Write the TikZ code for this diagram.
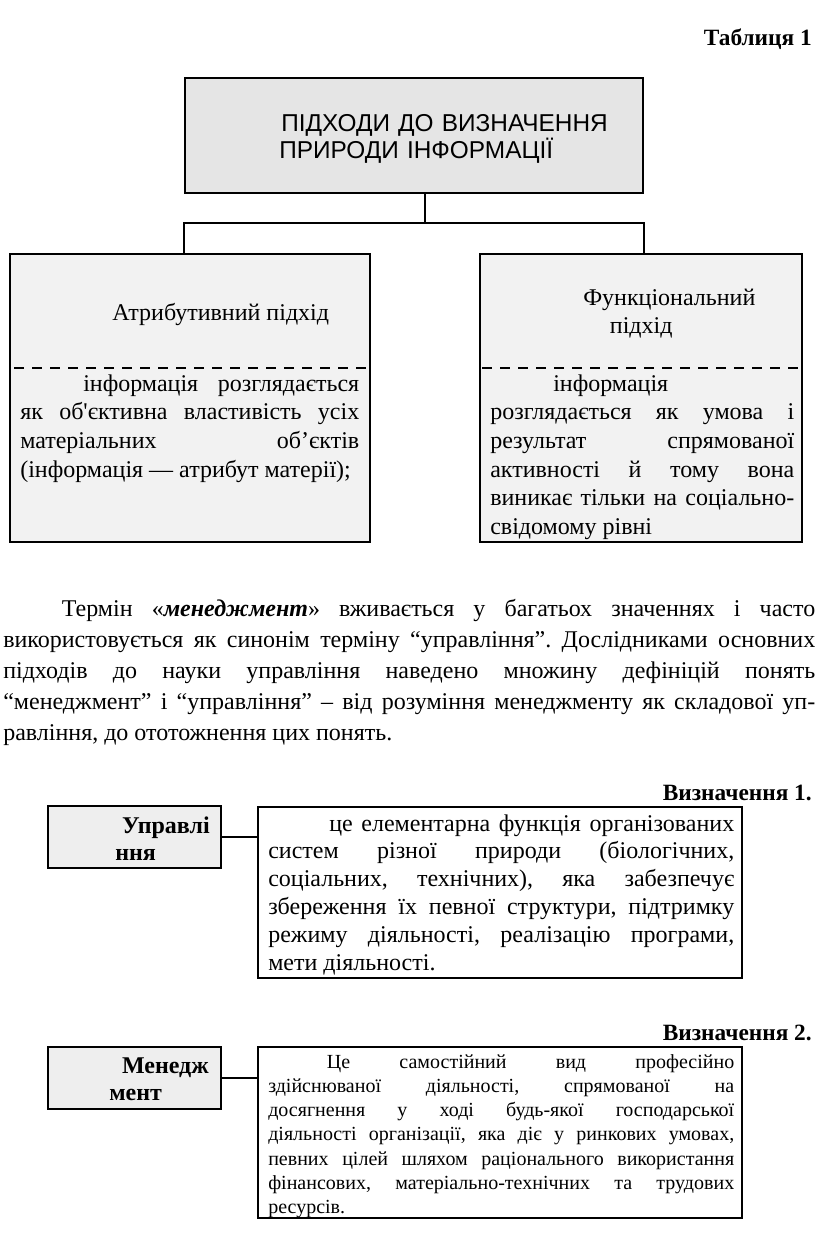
\documentclass[tikz,border=0pt]{standalone}
\usepackage{fontspec}
\setmainfont{Liberation Serif}
\newfontfamily\titlesans{Liberation Sans}
\usetikzlibrary{positioning}
\frenchspacing

\begin{document}
\begin{tikzpicture}[x=0.75pt, y=-0.75pt, every node/.style={inner sep=0pt},
  cellbox/.style={draw, line width=1.5pt},
  termbox/.style={cellbox, fill=gray!13, minimum width=129.75pt, minimum height=46.5pt},
  termtext/.style={font=\bfseries\fontsize{18}{21}\selectfont},
  bodytext/.style={anchor=base west, align=justify, font=\fontsize{18}{21.5}\selectfont},
  wire/.style={line width=1.5pt},
  cutline/.style={line width=1.5pt, dash pattern=on 7.5pt off 6pt}]
\useasboundingbox (0,0) rectangle (816,1250);

\node[anchor=base east, font=\bfseries\fontsize{17.5}{20}\selectfont] (tab) at (812,45) {Таблиця 1};

% top of the tree
\node[cellbox, fill=gray!20, minimum width=343.5pt, minimum height=86.25pt] (approach) at (414,135.5) {};
\node[anchor=base west, text width=255pt, align=left, font=\titlesans\fontsize{18.3}{20.25}\selectfont] (approachtxt) at (279,131)
  {\hspace*{1.5pt}ПІДХОДИ ДО ВИЗНАЧЕННЯ\\ПРИРОДИ ІНФОРМАЦІЇ};

\node[cellbox, fill=gray!10, minimum width=270pt, minimum height=216pt] (attr) at (190,398) {};
\node[cellbox, fill=gray!10, minimum width=241.5pt, minimum height=216pt] (func) at (641,398) {};

\coordinate (fork) at (425,223);
\draw[wire] (fork |- approach.south) -- (fork);
\draw[wire] (approach.south west |- attr.north) |- (approach.south east |- fork) -- (approach.south east |- func.north);

\draw[cutline] (14,368) -- (370,368);
\draw[cutline] (482,368) -- (800,368);

\node[anchor=base west, font=\fontsize{18}{21.5}\selectfont] (attrhead) at (112,320) {Атрибутивний підхід};
\node[anchor=base west, text width=170pt, align=left, font=\fontsize{18}{21.5}\selectfont] (funchead) at (583,305)
  {Функціональний\\\hspace*{20pt}підхід};

\node[bodytext, text width=254.25pt] (attrbody) at (20,391)
  {\hspace*{47.25pt}інформація розглядається\linebreak
   як об\textquotesingle єктивна властивість усіх\linebreak
   матеріальних об’єктів\linebreak
   (інформація — атрибут матерії);};
\node[bodytext, text width=228pt] (funcbody) at (490,391)
  {\hspace*{47.25pt}інформація\\
   розглядається як умова і\linebreak
   результат спрямованої\linebreak
   активності й тому вона\linebreak
   виникає тільки на соціально-\linebreak
   свідомому рівні};

% paragraph
\node[bodytext, text width=609pt, font=\fontsize{18}{23.25}\selectfont] (para) at (3,616)
  {\hspace*{44pt}Термін «\textbf{\textit{менеджмент}}» вживається у багатьох значеннях і часто\linebreak
   використовується як синонім терміну “управління”. Дослідниками основних\linebreak
   підходів до науки управління наведено множину дефініцій понять\linebreak
   “менеджмент” і “управління” – від розуміння менеджменту як складової уп-\linebreak
   равління, до ототожнення цих понять.};

% definition 1
\node[anchor=base east, font=\bfseries\fontsize{17.5}{20}\selectfont] (defno1) at (812,800) {Визначення 1.};
\node[termbox] (upr) at (134.5,837) {};
\node[termtext, anchor=base east] (upr1) at (210,833) {Управлі};
\node[termtext, anchor=base west] (upr2) at (115,860) {ння};
\node[cellbox, minimum width=363pt, minimum height=128.25pt] (def1) at (500,892.5) {};
\draw[wire] (upr.east) -- (upr.east -| def1.west);
\node[bodytext, text width=349.5pt, font=\fontsize{18}{20.85}\selectfont] (def1txt) at (268,831)
  {\hspace*{45.75pt}це елементарна функція організованих\linebreak
   систем різної природи (біологічних,\linebreak
   соціальних, технічних), яка забезпечує\linebreak
   збереження їх певної структури, підтримку\linebreak
   режиму діяльності, реалізацію програми,\linebreak
   мети діяльності.};

% definition 2
\node[anchor=base east, font=\bfseries\fontsize{17.5}{20}\selectfont] (defno2) at (812,1040) {Визначення 2.};
\node[termbox] (men) at (134.5,1077.5) {};
\node[termtext, anchor=base east] (men1) at (209,1073) {Менедж};
\node[termtext, anchor=base west] (men2) at (109,1100) {мент};
\node[cellbox, minimum width=363pt, minimum height=128.25pt] (def2) at (500,1132.5) {};
\draw[wire] (men.east) -- (men.east -| def2.west);
\node[bodytext, text width=349.5pt, font=\fontsize{15}{18.2}\selectfont] (def2txt) at (268,1068)
  {\hspace*{44pt}Це самостійний вид професійно\linebreak
   здійснюваної діяльності, спрямованої на\linebreak
   досягнення у ході будь-якої господарської\linebreak
   діяльності організації, яка діє у ринкових умовах,\linebreak
   певних цілей шляхом раціонального використання\linebreak
   фінансових, матеріально-технічних та трудових\linebreak
   ресурсів.};
\end{tikzpicture}
\end{document}
